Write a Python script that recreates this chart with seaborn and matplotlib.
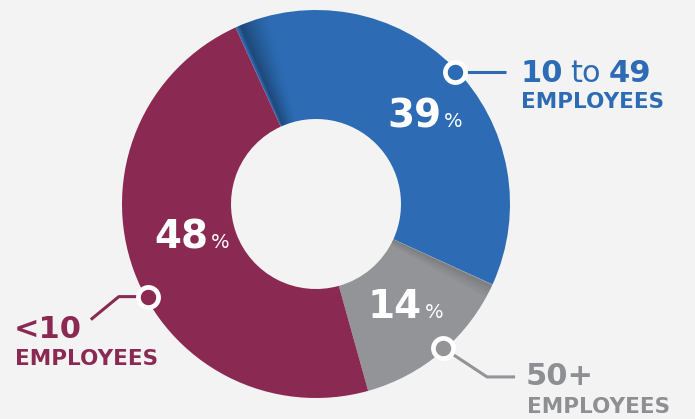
import numpy as np
import matplotlib
matplotlib.use("Agg")
import matplotlib.pyplot as plt
from matplotlib.patches import Wedge
import seaborn as sns

# ---- data -------------------------------------------------------------
categories = ["10 to 49", "50+", "<10"]
shares = [39, 14, 48]                      # percent of businesses
label_top = [["10", " to ", "49"], ["50+"], ["<10"]]
label_sub = "EMPLOYEES"

# ---- style ------------------------------------------------------------
sns.set_theme(style="white")
plt.rcParams["font.family"] = ["DejaVu Sans"]

BG = "#f3f3f3"
palette = sns.color_palette(["#2d6cb4", "#939497", "#8a2952"])
text_colors = ["#2d6cb4", "#8e8f92", "#8a2952"]

W, H = 695, 419
fig = plt.figure(figsize=(W / 100, H / 100), dpi=100, facecolor=BG)
ax = fig.add_axes([0, 0, 1, 1])
ax.set_facecolor(BG)

CX, CY = 316, H - 204          # donut centre (y measured upward)
R_OUT, RING = 194, 109

wedges, _ = ax.pie(
    shares, colors=palette, startangle=114.5, counterclock=False,
    center=(CX, CY), radius=R_OUT,
    wedgeprops=dict(width=RING, linewidth=0), frame=False,
)
ax.set_xlim(0, W)
ax.set_ylim(0, H)
ax.set_aspect("equal")
ax.axis("off")


def shade(theta_edge, span, peak, n=40, direction=-1):
    """Soft angular shadow running inward from a slice edge."""
    for i in range(n):
        t0, t1 = i / n, (i + 1) / n
        tm = (t0 + t1) / 2
        a = peak * (min(tm / 0.12, 1.0)) * (1 - tm) ** 1.6
        a0 = theta_edge + direction * span * t0
        a1 = theta_edge + direction * span * t1
        lo, hi = min(a0, a1), max(a0, a1)
        ax.add_patch(Wedge((CX, CY), R_OUT, lo, hi, width=RING,
                           facecolor="black", alpha=a, linewidth=0, zorder=2))


# shadow on the blue slice where the maroon slice overlaps it
shade(wedges[0].theta2 - 0.3, 11, 0.42)
# lighter shadow on the grey slice under the blue one
shade(wedges[1].theta2, 5, 0.18)

# ---- percentage labels inside the ring -------------------------------
pct_pos = [(441, 127), (422, 318), (208, 248)]     # right edge of number, baseline (px)
for s, (px, py) in zip(shares, pct_pos):
    ax.text(px, H - py, f"{s}", ha="right", va="baseline", color="white",
            fontsize=28, fontweight="bold", zorder=6)
    ax.text(px + 3, H - py, "%", ha="left", va="baseline", color="white",
            fontsize=14, fontweight="normal", zorder=6)

# ---- leader markers and lines ----------------------------------------
angle_offset = [-1.5, 0.9, 8.8]
leader_path = [
    [(51, 0)],                 # straight out to the right
    [(44, -29), (72, -29)],    # down-right, then right
    [(-29, 0), (-57, -23)],    # left, then down-left
]
for w, off, path, col in zip(wedges, angle_offset, leader_path, palette):
    ang = np.deg2rad((w.theta1 + w.theta2) / 2 + off)
    mx = CX + (R_OUT - 2) * np.cos(ang)
    my = CY + (R_OUT - 2) * np.sin(ang)
    xs = [mx] + [mx + dx for dx, dy in path]
    ys = [my] + [my + dy for dx, dy in path]
    ax.plot(xs, ys, color=col, lw=2.2, solid_capstyle="butt", zorder=4)
    ax.plot([mx], [my], "o", ms=14.5, mfc=col, mec="white", mew=3.4, zorder=5)

# ---- category labels --------------------------------------------------
fig.canvas.draw()
renderer = fig.canvas.get_renderer()

label_pos = [(520, 82, 108), (526, 385, 413), (14, 338, 365)]   # left x, baselines (px)
for runs, (lx, by1, by2), col in zip(label_top, label_pos, text_colors):
    x = lx
    for r in runs:
        bold = r.strip() != "to"
        s = r.strip()
        if r.startswith(" "):
            x += 8
        t = ax.text(x, H - by1, s, ha="left", va="baseline", color=col,
                    fontsize=22, fontweight="bold" if bold else "normal", zorder=6)
        x += t.get_window_extent(renderer=renderer).width
        if r.endswith(" "):
            x += 8
    ax.text(lx + 1, H - by2, label_sub, ha="left", va="baseline", color=col,
            fontsize=15.5, fontweight="bold", zorder=6)

fig.savefig("out.png", dpi=100, facecolor=BG)
